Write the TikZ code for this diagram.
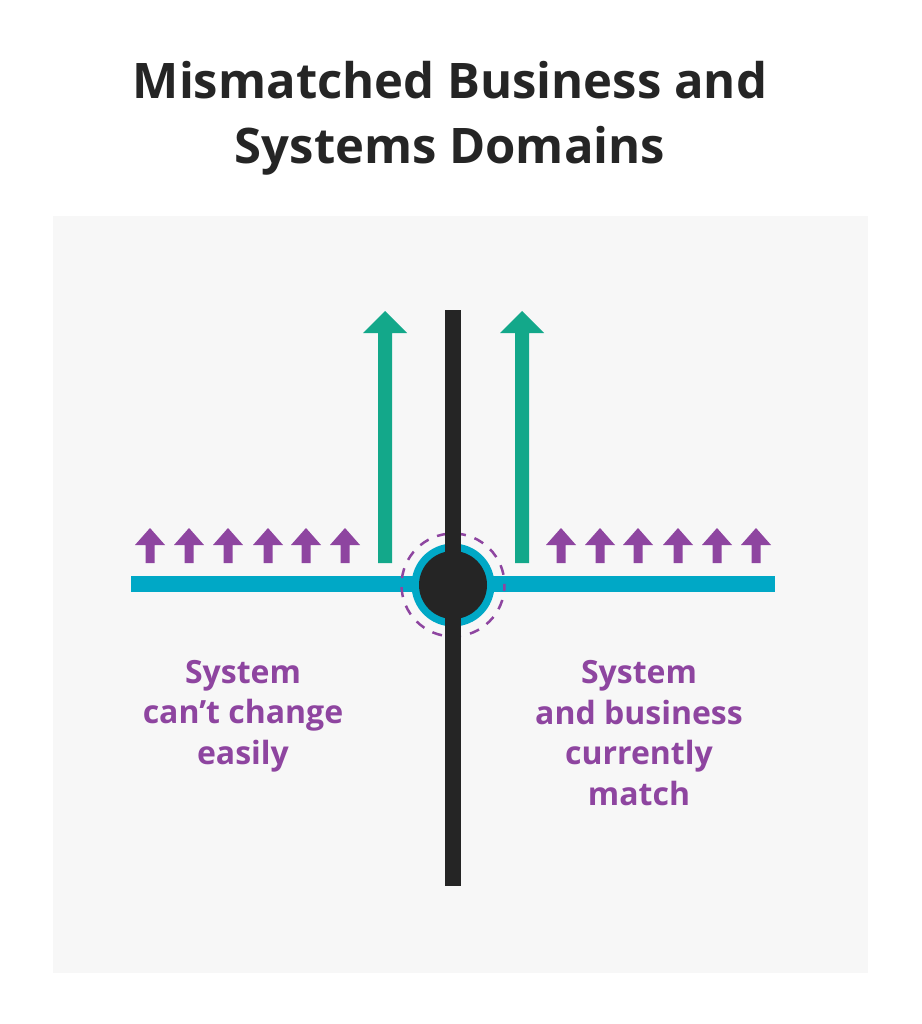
\documentclass[tikz,border=0pt]{standalone}
\usepackage{fontspec}
\setmainfont{Open Sans}
\definecolor{panelbg}{HTML}{F7F7F7}
\definecolor{ink}{HTML}{252525}
\definecolor{cyanline}{HTML}{00A8C6}
\definecolor{greenarrow}{HTML}{13A88A}
\definecolor{purplearrow}{HTML}{8E45A0}
\begin{document}
\begin{tikzpicture}[x=1pt,y=-1pt,
  titletext/.style={font=\fontsize{49}{65}\selectfont\bfseries, text=ink, align=center, inner sep=0pt},
  labeltext/.style={font=\fontsize{32}{40.5}\selectfont\bfseries, text=purplearrow, align=center, inner sep=0pt},
  bigarrow/.pic={\fill[greenarrow] (-7,0) -- (-7,-230) -- (-22,-230) -- (0,-252) -- (22,-230) -- (7,-230) -- (7,0) -- cycle;},
  smallarrow/.pic={\fill[purplearrow] (-4.5,0) -- (-4.5,-18) -- (-15,-18) -- (0,-35) -- (15,-18) -- (4.5,-18) -- (4.5,0) -- cycle;}
]
\useasboundingbox (0,0) rectangle (921,1024);
\fill[white] (0,0) rectangle (921,1024);
\fill[panelbg] (53,216) rectangle (868,973);
% title
\node[titletext, anchor=base] (title1) at (450,99) {Mismatched Business and};
\node[titletext, anchor=base] (title2) at (450,164) {Systems Domains};
% horizontal line
\coordinate (hl) at (131,584);
\coordinate (hr) at (775,584);
\draw[cyanline, line width=16pt] (hl) -- (hr);
% center
\coordinate (c) at (453,585);
\draw[purplearrow, line width=2.5pt, dash pattern=on 10pt off 9.2pt, dash phase=4pt] (c) circle[radius=51.5];
\fill[cyanline] (c) circle[radius=41.5];
\coordinate (vt) at (453,310);
\coordinate (vb) at (453,886);
\draw[ink, line width=16pt] (vt) -- (vb);
\fill[ink] (c) circle[radius=34];
% green arrows
\pic at (385,563) {bigarrow};
\pic at (522,563) {bigarrow};
% purple small arrows
\foreach \x in {150,189,228,268,306,345,561,600,638,678,717,756}
  \pic at (\x,563) {smallarrow};
% labels
\node[labeltext, anchor=base] (lab1) at (243,764) {System\\can’t change\\easily};
\node[labeltext, anchor=base] (lab2) at (639,805) {System\\and business\\currently\\match};
\end{tikzpicture}
\end{document}
